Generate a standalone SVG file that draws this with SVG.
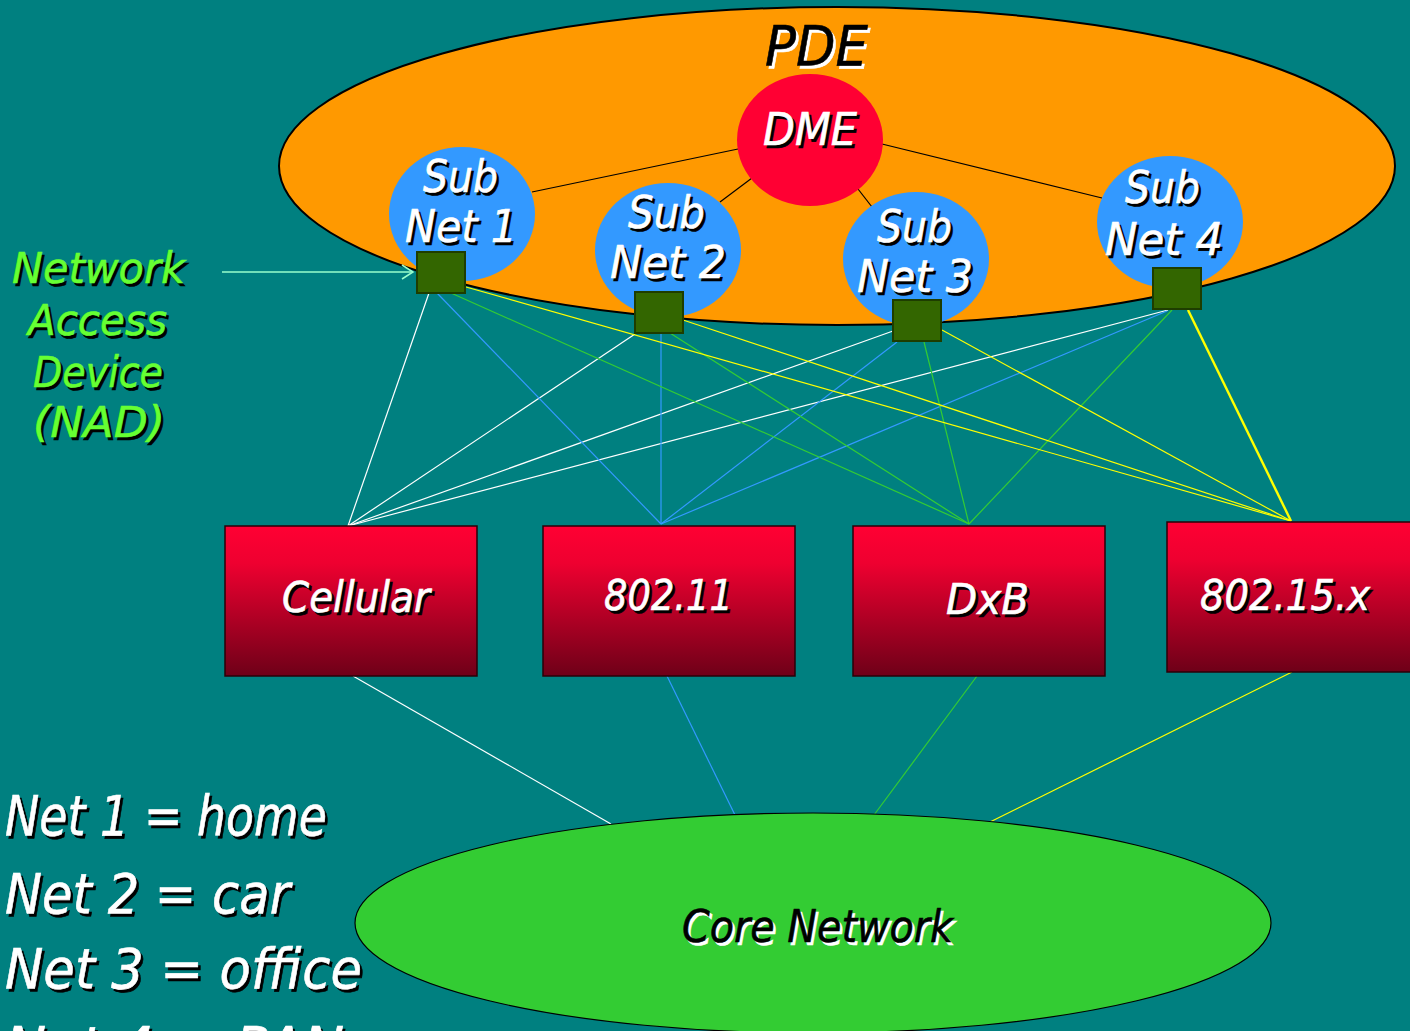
<svg xmlns="http://www.w3.org/2000/svg" width="1410" height="1031" viewBox="0 0 1410 1031">
<defs>
<linearGradient id="boxGrad" x1="0" y1="0" x2="0" y2="1">
<stop offset="0" stop-color="#FF0033"/>
<stop offset="0.25" stop-color="#EE0030"/>
<stop offset="1" stop-color="#6E0018"/>
</linearGradient>
<marker id="openArrow" markerWidth="14" markerHeight="16" refX="12" refY="8" orient="auto" markerUnits="userSpaceOnUse">
<path d="M1,1 L12,8 L1,15" fill="none" stroke="#99FFCC" stroke-width="1.5"/>
</marker>
</defs>
<style>
text { font-family: "DejaVu Sans", "Liberation Sans", sans-serif; font-style: oblique; }
.w { fill: #FFFFFF; stroke: #FFFFFF; stroke-width: 0.6; }
.bk { fill: #000000; stroke: #000000; stroke-width: 0.6; }
.g { fill: #66FF33; stroke: #66FF33; stroke-width: 0.6; }
.sh { fill: #000000; stroke: #000000; stroke-width: 0.6; }
.shw { fill: #FFFFFF; stroke: #FFFFFF; stroke-width: 0.6; }
.sub { fill: #3399FF; }
.nad { fill: #336600; stroke: #1E3D00; stroke-width: 2; }
.box { fill: url(#boxGrad); stroke: #2A0008; stroke-width: 1.5; }
.c { fill: none; stroke-width: 1.2; }
.thick { stroke-width: 2.4; }
.cw { stroke: #FFFFFF; }
.cb { stroke: #3399FF; }
.cg { stroke: #33CC33; }
.cy { stroke: #FFFF00; }
.dl { stroke: #000000; stroke-width: 1.2; fill: none; }
</style>
<rect x="0" y="0" width="1410" height="1031" fill="#008080"/>

<g id="pde">
<ellipse cx="837" cy="166" rx="558" ry="159" fill="#FF9900" stroke="#000000" stroke-width="2"/>
<text x="767.5" y="67.5" font-size="55" class="shw" textLength="103" lengthAdjust="spacingAndGlyphs">PDE</text>
<text x="765" y="65" font-size="55" class="bk" textLength="103" lengthAdjust="spacingAndGlyphs">PDE</text>
</g>

<g id="dme-links">
<line class="dl" x1="532" y1="192" x2="738" y2="149"/>
<line class="dl" x1="720" y1="202" x2="752" y2="178"/>
<line class="dl" x1="858" y1="189" x2="872" y2="207"/>
<line class="dl" x1="882" y1="144" x2="1102" y2="198"/>
</g>

<g id="dme">
<ellipse cx="810" cy="140" rx="73" ry="66" fill="#FF0033"/>
<text x="765.5" y="147.5" font-size="44" class="sh" textLength="94" lengthAdjust="spacingAndGlyphs">DME</text>
<text x="763" y="145" font-size="44" class="w" textLength="94" lengthAdjust="spacingAndGlyphs">DME</text>
</g>

<g id="subnet1">
<ellipse cx="462" cy="214" rx="73" ry="67" class="sub"/>
<text x="425.5" y="194.5" font-size="44" class="sh" textLength="75" lengthAdjust="spacingAndGlyphs">Sub</text>
<text x="423" y="192" font-size="44" class="w" textLength="75" lengthAdjust="spacingAndGlyphs">Sub</text>
<text x="407.5" y="244.5" font-size="44" class="sh" textLength="112" lengthAdjust="spacingAndGlyphs">Net 1</text>
<text x="405" y="242" font-size="44" class="w" textLength="112" lengthAdjust="spacingAndGlyphs">Net 1</text>
</g>
<g id="subnet2">
<ellipse cx="668" cy="250" rx="73" ry="67" class="sub"/>
<text x="630.5" y="230.5" font-size="44" class="sh" textLength="77" lengthAdjust="spacingAndGlyphs">Sub</text>
<text x="628" y="228" font-size="44" class="w" textLength="77" lengthAdjust="spacingAndGlyphs">Sub</text>
<text x="612.5" y="280.5" font-size="44" class="sh" textLength="116" lengthAdjust="spacingAndGlyphs">Net 2</text>
<text x="610" y="278" font-size="44" class="w" textLength="116" lengthAdjust="spacingAndGlyphs">Net 2</text>
</g>
<g id="subnet3">
<ellipse cx="916" cy="259" rx="73" ry="67" class="sub"/>
<text x="879.5" y="244.5" font-size="44" class="sh" textLength="75" lengthAdjust="spacingAndGlyphs">Sub</text>
<text x="877" y="242" font-size="44" class="w" textLength="75" lengthAdjust="spacingAndGlyphs">Sub</text>
<text x="859.5" y="294.5" font-size="44" class="sh" textLength="116" lengthAdjust="spacingAndGlyphs">Net 3</text>
<text x="857" y="292" font-size="44" class="w" textLength="116" lengthAdjust="spacingAndGlyphs">Net 3</text>
</g>
<g id="subnet4">
<ellipse cx="1170" cy="222" rx="73" ry="66" class="sub"/>
<text x="1127.5" y="205.5" font-size="44" class="sh" textLength="75" lengthAdjust="spacingAndGlyphs">Sub</text>
<text x="1125" y="203" font-size="44" class="w" textLength="75" lengthAdjust="spacingAndGlyphs">Sub</text>
<text x="1107.5" y="257.5" font-size="44" class="sh" textLength="118" lengthAdjust="spacingAndGlyphs">Net 4</text>
<text x="1105" y="255" font-size="44" class="w" textLength="118" lengthAdjust="spacingAndGlyphs">Net 4</text>
</g>

<g id="connectors">
<line class="c cw" x1="348" y1="526" x2="429" y2="293"/>
<line class="c cw" x1="348" y1="526" x2="635" y2="334"/>
<line class="c cw" x1="348" y1="526" x2="893" y2="331"/>
<line class="c cw" x1="348" y1="526" x2="1168" y2="310"/>
<line class="c cb" x1="661" y1="524" x2="437" y2="293"/>
<line class="c cb" x1="661" y1="524" x2="661" y2="333"/>
<line class="c cb" x1="661" y1="524" x2="897" y2="342"/>
<line class="c cb" x1="661" y1="524" x2="1167" y2="311"/>
<line class="c cg" x1="969" y1="524" x2="451" y2="293"/>
<line class="c cg" x1="969" y1="524" x2="670" y2="333"/>
<line class="c cg" x1="969" y1="524" x2="924" y2="342"/>
<line class="c cg" x1="969" y1="524" x2="1172" y2="310"/>
<line class="c cy" x1="1291" y1="521" x2="466" y2="287"/>
<line class="c cy" x1="1291" y1="521" x2="683" y2="320"/>
<line class="c cy" x1="1291" y1="521" x2="942" y2="330"/>
<line class="c cy thick" x1="1291" y1="521" x2="1188" y2="310"/>
<line class="c cw" x1="353" y1="676" x2="611" y2="824"/>
<line class="c cb" x1="667" y1="676" x2="735" y2="815"/>
<line class="c cg" x1="977" y1="676" x2="874" y2="815"/>
<line class="c cy" x1="1292" y1="672" x2="990" y2="822"/>
<line x1="222" y1="272" x2="413" y2="272" stroke="#99FFCC" stroke-width="1.3" marker-end="url(#openArrow)"/>
</g>

<g id="nad1"><rect x="417" y="252" width="48" height="41" class="nad"/></g>
<g id="nad2"><rect x="635" y="292" width="48" height="41" class="nad"/></g>
<g id="nad3"><rect x="893" y="300" width="48" height="41" class="nad"/></g>
<g id="nad4"><rect x="1153" y="268" width="48" height="41" class="nad"/></g>

<g id="nad-label">
<text x="14.5" y="285.5" font-size="42" class="sh" textLength="173" lengthAdjust="spacingAndGlyphs">Network</text>
<text x="12" y="283" font-size="42" class="g" textLength="173" lengthAdjust="spacingAndGlyphs">Network</text>
<text x="30.5" y="337.5" font-size="42" class="sh" textLength="139" lengthAdjust="spacingAndGlyphs">Access</text>
<text x="28" y="335" font-size="42" class="g" textLength="139" lengthAdjust="spacingAndGlyphs">Access</text>
<text x="35.5" y="389.5" font-size="42" class="sh" textLength="130" lengthAdjust="spacingAndGlyphs">Device</text>
<text x="33" y="387" font-size="42" class="g" textLength="130" lengthAdjust="spacingAndGlyphs">Device</text>
<text x="35.5" y="439.5" font-size="42" class="sh" textLength="132" lengthAdjust="spacingAndGlyphs">(NAD)</text>
<text x="33" y="437" font-size="42" class="g" textLength="132" lengthAdjust="spacingAndGlyphs">(NAD)</text>
</g>

<g id="cellular">
<rect x="225" y="526" width="252" height="150" class="box"/>
<text x="284.5" y="614.5" font-size="42" class="sh" textLength="148" lengthAdjust="spacingAndGlyphs">Cellular</text>
<text x="282" y="612" font-size="42" class="w" textLength="148" lengthAdjust="spacingAndGlyphs">Cellular</text>
</g>
<g id="wifi">
<rect x="543" y="526" width="252" height="150" class="box"/>
<text x="606.5" y="612.5" font-size="42" class="sh" textLength="129" lengthAdjust="spacingAndGlyphs">802.11</text>
<text x="604" y="610" font-size="42" class="w" textLength="129" lengthAdjust="spacingAndGlyphs">802.11</text>
</g>
<g id="dxb">
<rect x="853" y="526" width="252" height="150" class="box"/>
<text x="948.5" y="616.5" font-size="42" class="sh" textLength="83" lengthAdjust="spacingAndGlyphs">DxB</text>
<text x="946" y="614" font-size="42" class="w" textLength="83" lengthAdjust="spacingAndGlyphs">DxB</text>
</g>
<g id="pan">
<rect x="1167" y="522" width="260" height="150" class="box"/>
<text x="1202.5" y="612.5" font-size="42" class="sh" textLength="170" lengthAdjust="spacingAndGlyphs">802.15.x</text>
<text x="1200" y="610" font-size="42" class="w" textLength="170" lengthAdjust="spacingAndGlyphs">802.15.x</text>
</g>

<g id="core">
<ellipse cx="813" cy="923" rx="458" ry="110" fill="#33CC33" stroke="#000000" stroke-width="1.2"/>
<text x="684.5" y="944.5" font-size="44" class="shw" textLength="271" lengthAdjust="spacingAndGlyphs">Core Network</text>
<text x="682" y="942" font-size="44" class="bk" textLength="271" lengthAdjust="spacingAndGlyphs">Core Network</text>
</g>

<g id="legend">
<text x="7.5" y="837.5" font-size="55" class="sh" textLength="322" lengthAdjust="spacingAndGlyphs">Net 1 = home</text>
<text x="5" y="835" font-size="55" class="w" textLength="322" lengthAdjust="spacingAndGlyphs">Net 1 = home</text>
<text x="7.5" y="915.5" font-size="55" class="sh" textLength="285" lengthAdjust="spacingAndGlyphs">Net 2 = car</text>
<text x="5" y="913" font-size="55" class="w" textLength="285" lengthAdjust="spacingAndGlyphs">Net 2 = car</text>
<text x="7.5" y="990.5" font-size="55" class="sh" textLength="357" lengthAdjust="spacingAndGlyphs">Net 3 = office</text>
<text x="5" y="988" font-size="55" class="w" textLength="357" lengthAdjust="spacingAndGlyphs">Net 3 = office</text>
<text x="7.5" y="1068.5" font-size="55" class="sh">Net 4 = PAN</text>
<text x="5" y="1066" font-size="55" class="w">Net 4 = PAN</text>
</g>
</svg>
